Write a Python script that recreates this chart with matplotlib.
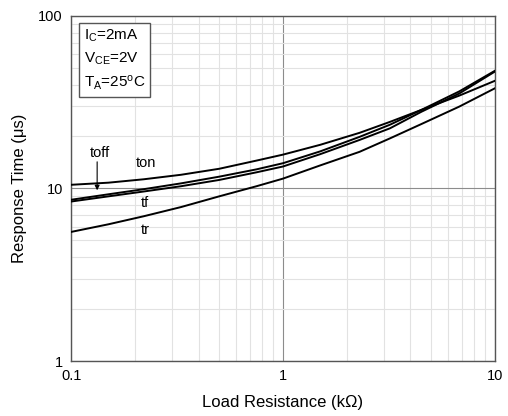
import matplotlib
matplotlib.use("Agg")
import matplotlib.pyplot as plt
from matplotlib.ticker import FixedLocator, NullFormatter

plt.rcParams['font.family'] = ['Liberation Sans', 'DejaVu Sans']
plt.rcParams['mathtext.fontset'] = 'custom'
plt.rcParams['mathtext.rm'] = 'Liberation Sans'
plt.rcParams['mathtext.it'] = 'Liberation Sans'

# load resistance (kOhm)
rl = [0.1, 0.15, 0.22, 0.33, 0.5, 0.75, 1.0, 1.5, 2.3, 3.2, 4.5, 6.8, 10]

# response times (us)
t_on = [10.5, 10.8, 11.3, 12.0, 13.0, 14.5, 15.7, 17.9, 21.0, 24.3, 28.5, 34.5, 42.0]
t_off = [8.6, 9.25, 9.9, 10.7, 11.7, 12.9, 14.0, 16.4, 19.9, 23.4, 28.5, 36.5, 48.0]
t_f = [8.4, 9.0, 9.6, 10.3, 11.2, 12.4, 13.4, 15.8, 19.1, 22.3, 27.8, 35.5, 47.5]
t_r = [5.6, 6.2, 6.9, 7.8, 9.0, 10.3, 11.4, 13.6, 16.3, 19.5, 23.6, 29.8, 38.0]

fig = plt.figure(figsize=(5.08, 4.16), dpi=100)
ax = fig.add_axes([0.140, 0.132, 0.834, 0.830])

for ys in (t_on, t_off, t_f, t_r):
    ax.plot(rl, ys, color='black', lw=1.4, zorder=3)

ax.set_xscale('log')
ax.set_yscale('log')
ax.set_xlim(0.1, 10)
ax.set_ylim(1, 100)

# grid: light minor lines, darker decade lines
ax.grid(which='minor', color='#e2e2e2', lw=0.8)
ax.grid(which='major', color='#8c8c8c', lw=0.8)
ax.tick_params(which='both', length=0, labelsize=10.5, pad=6)
ax.xaxis.set_major_locator(FixedLocator([0.1, 1, 10]))
ax.yaxis.set_major_locator(FixedLocator([1, 10, 100]))
ax.xaxis.set_minor_formatter(NullFormatter())
ax.yaxis.set_minor_formatter(NullFormatter())
ax.set_xticklabels(['0.1', '1', '10'])
ax.set_yticklabels(['1', '10', '100'])
for s in ax.spines.values():
    s.set_color('#555555')
    s.set_linewidth(1.0)

ax.set_xlabel('Load Resistance (k\u03a9)', fontsize=12, labelpad=8)
ax.set_ylabel('Response Time (\u03bcs)', fontsize=12, labelpad=8)

# curve labels
ax.text(0.226, 14.0, 'ton', fontsize=10.5, ha='center', va='center')
ax.text(0.223, 8.2, 'tf', fontsize=10.5, ha='center', va='center')
ax.text(0.223, 5.75, 'tr', fontsize=10.5, ha='center', va='center')
ax.text(0.137, 16.1, 'toff', fontsize=10.5, ha='center', va='center')
ax.annotate('', xy=(0.1327, 9.4), xytext=(0.1327, 14.8),
            arrowprops=dict(arrowstyle='-|>', color='black', lw=0.8,
                            mutation_scale=7))

# conditions box
ax.text(0.115, 86,
        'I$_\\mathregular{C}$=2mA\nV$_\\mathregular{CE}$=2V\nT$_\\mathregular{A}$=25$^\\mathregular{o}$C',
        fontsize=11, ha='left', va='top', linespacing=1.55, zorder=4,
        bbox=dict(boxstyle='square,pad=0.3', fc='white', ec='#555555', lw=1.0))

fig.savefig('out.png', dpi=100)
